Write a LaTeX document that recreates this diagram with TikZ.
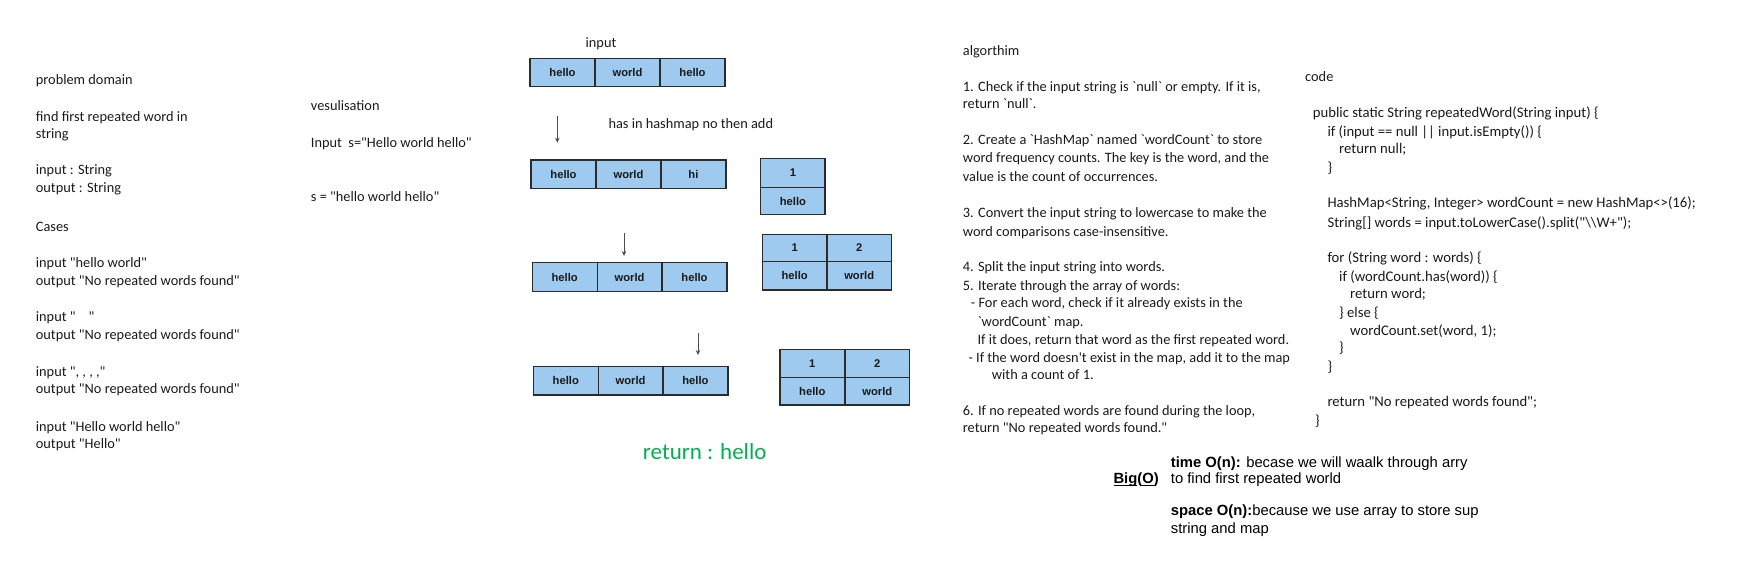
\documentclass[tikz,border=0pt]{standalone}
\usepackage{fontspec}
\setmainfont[Ligatures=TeXOff]{Carlito}
\newfontfamily\arialf[Ligatures=TeXOff]{Liberation Sans}
\usetikzlibrary{arrows.meta}
\definecolor{cellblue}{HTML}{9DCAEE}
\definecolor{celldraw}{HTML}{2B2B2B}
\definecolor{retgreen}{HTML}{00B050}
\definecolor{txtc}{HTML}{1A1A1A}
\newcommand\myul[1]{\underline{\raisebox{0pt}[\height][0pt]{#1}}}
\tikzset{
  txt/.style={anchor=base west, inner sep=0pt, text=txtc, font=\fontsize{14.35}{17}\selectfont},
  codetxt/.style={txt, font=\fontsize{14.7}{17}\selectfont},
  cell/.style={draw=celldraw, fill=cellblue, line width=1.2pt, minimum width=65pt, minimum height=28.5pt, inner sep=0pt, text=black!90, font=\arialf\bfseries\fontsize{11.2}{13}\selectfont},
  big/.style={anchor=base west, inner sep=0pt, text=black, font=\arialf\fontsize{14.8}{17}\selectfont},
  arr/.style={draw=black!70, line width=1pt, -{Stealth[length=5pt,width=4.5pt]}}
}
\begin{document}
\begin{tikzpicture}[x=1pt,y=-1pt]
\useasboundingbox (0,0) rectangle (1758,570);
% problem domain
\node[txt] (p1) at (35.7,84.5) {problem domain};
\node[txt] (p2) at (35.7,121.2) {find first repeated word in};
\node[txt] (p3) at (35.7,138.8) {string};
\node[txt] (p4) at (35.7,174.5) {input : String};
\node[txt] (p5) at (35.7,192.2) {output : String};
\node[txt] (p6) at (35.7,231.8) {Cases};
\node[txt] (p7) at (35.7,267.8) {input "hello world"};
\node[txt] (p8) at (35.7,285.2) {output "No repeated words found"};
\node[txt] (p9) at (35.7,321.8) {input "\ \ \ \ "};
\node[txt] (p10) at (35.7,339.5) {output "No repeated words found"};
\node[txt] (p11) at (35.7,376.2) {input ", , , ,"};
\node[txt] (p12) at (35.7,393.8) {output "No repeated words found"};
\node[txt] (p13) at (35.7,431.2) {input "Hello world hello"};
\node[txt] (p14) at (35.7,448.8) {output "Hello"};
% visualisation
\node[txt] (v1) at (310.7,110.5) {vesulisation};
\node[txt] (v2) at (310.7,147.8) {Input\ \ s="Hello world hello"};
\node[txt] (v3) at (310.7,201.2) {s = "hello world hello"};
\node[txt, anchor=base] (inlab) at (601,47.2) {input};
\node[txt] (hasl) at (608.3,128.8) {has in hashmap no then add};
% array 1
\node[cell] (a11) at (562.5,72.5) {hello};
\node[cell] (a12) at (627.5,72.5) {world};
\node[cell] (a13) at (692.5,72.5) {hello};
% array 2
\node[cell] (a21) at (563.5,174.3) {hello};
\node[cell] (a22) at (628.5,174.3) {world};
\node[cell] (a23) at (693.4,174.3) {hi};
% array 3
\node[cell, minimum height=29pt] (a31) at (564.7,277.2) {hello};
\node[cell, minimum height=29pt] (a32) at (629.6,277.2) {world};
\node[cell, minimum height=29pt] (a33) at (694.5,277.2) {hello};
% array 4
\node[cell] (a41) at (565.8,380.8) {hello};
\node[cell] (a42) at (630.6,380.8) {world};
\node[cell] (a43) at (695.4,380.8) {hello};
% map 1
\node[cell, minimum width=64.3pt, minimum height=28.6pt] (m1k) at (792.9,173) {1};
\node[cell, minimum width=64.3pt, minimum height=27.4pt] (m1v) at (792.9,201) {hello};
% map 2
\node[cell, minimum width=64.5pt, minimum height=27.4pt] (m2k1) at (794.7,248) {1};
\node[cell, minimum width=64.5pt, minimum height=27.4pt] (m2k2) at (859.2,248) {2};
\node[cell, minimum width=64.5pt, minimum height=28.3pt] (m2v1) at (794.7,275.8) {hello};
\node[cell, minimum width=64.5pt, minimum height=28.3pt] (m2v2) at (859.2,275.8) {world};
% map 3
\node[cell, minimum width=64.7pt, minimum height=28.4pt] (m3k1) at (812.3,363.5) {1};
\node[cell, minimum width=64.7pt, minimum height=28.4pt] (m3k2) at (877.3,363.5) {2};
\node[cell, minimum width=64.7pt, minimum height=27.3pt] (m3v1) at (812.3,391.3) {hello};
\node[cell, minimum width=64.7pt, minimum height=27.3pt] (m3v2) at (877.3,391.3) {world};
% arrows
\coordinate (r1s) at (557.3,116);
\coordinate (r1e) at (557.3,142.7);
\coordinate (r2s) at (624,233.3);
\coordinate (r2e) at (624,256);
\coordinate (r3s) at (698,333.3);
\coordinate (r3e) at (698,355);
\draw[arr] (r1s) -- (r1e);
\draw[arr] (r2s) -- (r2e);
\draw[arr] (r3s) -- (r3e);
\node[anchor=base, inner sep=0pt, text=retgreen, font=\fontsize{23}{26}\selectfont] (ret) at (704.7,459.2) {return : hello};
% algorithm
\node[txt] (g0) at (962.7,55.2) {algorthim};
\node[txt] (g1) at (962.7,91.2) {1. Check if the input string is `null` or empty. If it is,};
\node[txt] (g2) at (962.7,108.5) {return `null`.};
\node[txt] (g3) at (962.7,144.5) {2. Create a `HashMap` named `wordCount` to store};
\node[txt] (g4) at (962.7,162.8) {word frequency counts. The key is the word, and the};
\node[txt] (g5) at (962.7,181.2) {value is the count of occurrences.};
\node[txt] (g6) at (962.7,217.2) {3. Convert the input string to lowercase to make the};
\node[txt] (g7) at (962.7,236.2) {word comparisons case-insensitive.};
\node[txt] (g8) at (962.7,271.8) {4. Split the input string into words.};
\node[txt] (g9) at (962.7,290.5) {5. Iterate through the array of words:};
\node[txt] (g10) at (970.7,307.8) {- For each word, check if it already exists in the};
\node[txt] (g11) at (977.3,326.2) {`wordCount` map.};
\node[txt] (g12) at (977.3,344.5) {If it does, return that word as the first repeated word.};
\node[txt] (g13) at (968.3,362.2) {- If the word doesn't exist in the map, add it to the map};
\node[txt] (g14) at (991.7,379.5) {with a count of 1.};
\node[txt] (g15) at (962.7,415.5) {6. If no repeated words are found during the loop,};
\node[txt] (g16) at (962.7,432.8) {return "No repeated words found."};
% code
\node[txt] (c0) at (1305,81.8) {code};
\node[codetxt] (c1) at (1312.7,117.8) {public static String repeatedWord(String input) \{};
\node[codetxt] (c2) at (1327.3,136.2) {if (input == null || input.isEmpty()) \{};
\node[codetxt] (c3) at (1339,153.8) {return null;};
\node[codetxt] (c4) at (1327.3,172.8) {\}};
\node[codetxt] (c5) at (1327.3,207.8) {HashMap<String, Integer> wordCount = new HashMap<>(16);};
\node[codetxt] (c6) at (1327.3,227.2) {String[] words = input.toLowerCase().split("\textbackslash\textbackslash W+");};
\node[codetxt] (c7) at (1327.3,262.8) {for (String word : words) \{};
\node[codetxt] (c8) at (1339,281.2) {if (wordCount.has(word)) \{};
\node[codetxt] (c9) at (1350,298.8) {return word;};
\node[codetxt] (c10) at (1339,317.2) {\} else \{};
\node[codetxt] (c11) at (1350,335.5) {wordCount.set(word, 1);};
\node[codetxt] (c12) at (1339,352.8) {\}};
\node[codetxt] (c13) at (1327.3,371.2) {\}};
\node[codetxt] (c14) at (1327.3,406.8) {return "No repeated words found";};
\node[codetxt] (c15) at (1315,425.2) {\}};
% Big O
\node[big, font=\arialf\bfseries\fontsize{14.8}{17}\selectfont] (bigo) at (1113.3,483.5) {\myul{Big}(\myul{O})};
\node[big] (b1) at (1170.7,467) {\textbf{time O(n):} becase we will waalk through arry};
\node[big] (b2) at (1170.7,483.5) {to find first repeated world};
\node[big] (b3) at (1170.7,515.2) {\textbf{space O(n):}because we use array to store sup};
\node[big] (b4) at (1170.7,533.5) {string and map};
\end{tikzpicture}
\end{document}
